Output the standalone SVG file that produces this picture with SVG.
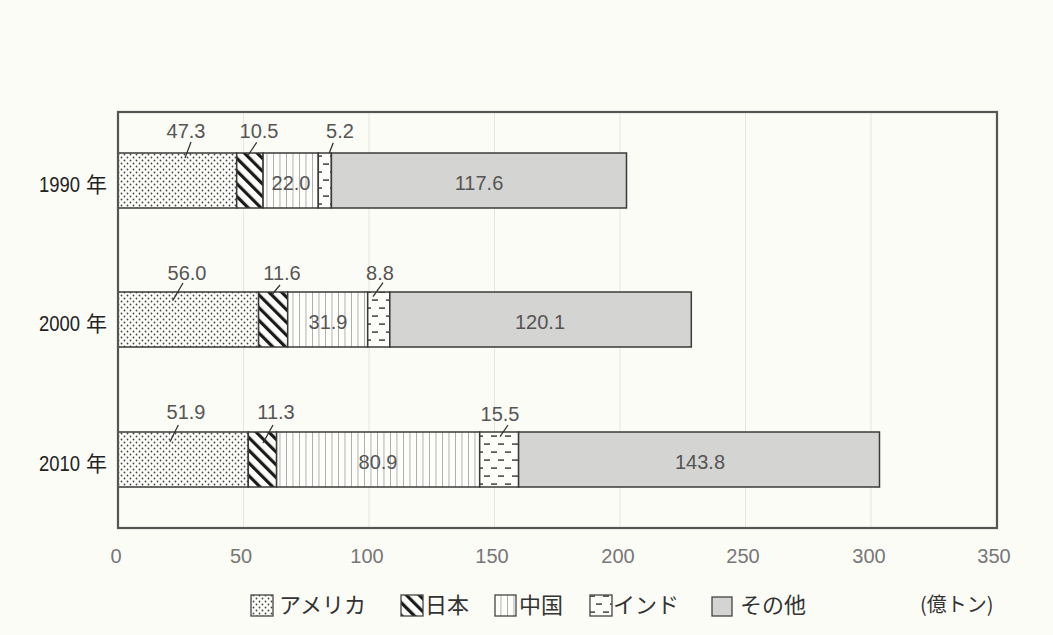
<svg xmlns="http://www.w3.org/2000/svg" width="1053" height="635" viewBox="0 0 1053 635">
<defs>
<pattern id="pDots" patternUnits="userSpaceOnUse" width="6" height="6">
<rect width="6" height="6" fill="#fdfdfa"/>
<circle cx="1.5" cy="1.5" r="0.9" fill="#444"/>
<circle cx="4.5" cy="4.5" r="0.9" fill="#444"/>
</pattern>
<pattern id="pDiag" patternUnits="userSpaceOnUse" width="9" height="9" patternTransform="rotate(-45)">
<rect width="9" height="9" fill="#fdfdfa"/>
<rect x="0" y="0" width="3.2" height="9" fill="#1a1a1a"/>
</pattern>
<pattern id="pVert" patternUnits="userSpaceOnUse" width="6.5" height="10">
<rect width="6.5" height="10" fill="#fdfdfa"/>
<rect x="0" y="0" width="0.9" height="10" fill="#aaa"/>
</pattern>
<pattern id="pDash" patternUnits="userSpaceOnUse" width="14" height="16">
<rect width="14" height="16" fill="#fdfdfa"/>
<rect x="1" y="3.4" width="6" height="1.4" fill="#333"/>
<rect x="8" y="11.4" width="6" height="1.4" fill="#333"/>
</pattern>
<style>
.seg{stroke:#3a3a3a;stroke-width:1.5}
.oth{fill:#d4d4d2}
.val{font-family:"Liberation Sans",Arial,sans-serif;font-size:20px;fill:#555;text-anchor:middle}
.lead{stroke:#333;stroke-width:1.3}
.ax{font-family:"Liberation Sans",Arial,sans-serif;font-size:20px;fill:#777;text-anchor:middle}
.yr{font-family:"Liberation Sans",Arial,sans-serif;font-size:22px;fill:#222}
.yrk{font-family:"Noto Sans CJK JP",sans-serif;font-size:21px;fill:#222}
.lg{font-family:"Noto Sans CJK JP",sans-serif;font-size:22px;fill:#333}
.grid{stroke:#e6e6de;stroke-width:1}
.lbox{stroke:#444;stroke-width:1.3}
</style>
</defs>
<rect width="1053" height="635" fill="#fcfcf7"/>

<g id="grid">
<line class="grid" x1="243.5" y1="113" x2="243.5" y2="527"/>
<line class="grid" x1="369" y1="113" x2="369" y2="527"/>
<line class="grid" x1="494.5" y1="113" x2="494.5" y2="527"/>
<line class="grid" x1="620" y1="113" x2="620" y2="527"/>
<line class="grid" x1="745.5" y1="113" x2="745.5" y2="527"/>
<line class="grid" x1="871" y1="113" x2="871" y2="527"/>
</g>

<g id="bar1990">
<rect class="seg" x="118" y="153" width="118.7" height="55" fill="url(#pDots)"/>
<rect class="seg" x="236.7" y="153" width="26.4" height="55" fill="url(#pDiag)"/>
<rect class="seg" x="263.1" y="153" width="55.2" height="55" fill="url(#pVert)"/>
<rect class="seg" x="318.3" y="153" width="13.1" height="55" fill="url(#pDash)"/>
<rect class="seg oth" x="331.4" y="153" width="295.1" height="55"/>
<text class="val" x="186" y="138">47.3</text>
<text class="val" x="259" y="138">10.5</text>
<text class="val" x="340" y="138">5.2</text>
<text class="val" x="291" y="190">22.0</text>
<text class="val" x="479" y="190">117.6</text>
</g>

<g id="bar2000">
<rect class="seg" x="118" y="292" width="140.6" height="55" fill="url(#pDots)"/>
<rect class="seg" x="258.6" y="292" width="29.1" height="55" fill="url(#pDiag)"/>
<rect class="seg" x="287.7" y="292" width="80" height="55" fill="url(#pVert)"/>
<rect class="seg" x="367.7" y="292" width="22.1" height="55" fill="url(#pDash)"/>
<rect class="seg oth" x="389.8" y="292" width="301.5" height="55"/>
<text class="val" x="187" y="280">56.0</text>
<text class="val" x="282" y="280">11.6</text>
<text class="val" x="380" y="280">8.8</text>
<text class="val" x="328" y="329">31.9</text>
<text class="val" x="540" y="329">120.1</text>
</g>

<g id="bar2010">
<rect class="seg" x="118" y="432" width="130.3" height="55" fill="url(#pDots)"/>
<rect class="seg" x="248.3" y="432" width="28.3" height="55" fill="url(#pDiag)"/>
<rect class="seg" x="276.6" y="432" width="203.1" height="55" fill="url(#pVert)"/>
<rect class="seg" x="479.7" y="432" width="38.9" height="55" fill="url(#pDash)"/>
<rect class="seg oth" x="518.6" y="432" width="360.9" height="55"/>
<text class="val" x="186" y="419">51.9</text>
<text class="val" x="276" y="419">11.3</text>
<text class="val" x="500" y="421">15.5</text>
<text class="val" x="378" y="469">80.9</text>
<text class="val" x="700" y="469">143.8</text>
</g>

<g id="connectors">
<line class="lead" x1="191" y1="142" x2="185" y2="158"/>
<line class="lead" x1="256.7" y1="142.3" x2="248.3" y2="155"/>
<line class="lead" x1="333.3" y1="142.7" x2="329.3" y2="153"/>
<line class="lead" x1="183" y1="283" x2="172.7" y2="300.7"/>
<line class="lead" x1="280" y1="285" x2="271.7" y2="295"/>
<line class="lead" x1="383" y1="282.7" x2="373" y2="296.7"/>
<line class="lead" x1="178.3" y1="425" x2="170" y2="441.7"/>
<line class="lead" x1="273" y1="425" x2="263" y2="443"/>
<line class="lead" x1="508" y1="425" x2="500" y2="436.7"/>
</g>

<g id="frame">
<rect x="118" y="112" width="879" height="416" fill="none" stroke="#555" stroke-width="2.2"/>
</g>

<g id="years">
<text class="yr" x="39" y="192" textLength="41" lengthAdjust="spacingAndGlyphs">1990</text><text class="yrk" x="86" y="192">年</text>
<text class="yr" x="39" y="331" textLength="41" lengthAdjust="spacingAndGlyphs">2000</text><text class="yrk" x="86" y="331">年</text>
<text class="yr" x="39" y="471" textLength="41" lengthAdjust="spacingAndGlyphs">2010</text><text class="yrk" x="86" y="471">年</text>
</g>

<g id="xaxis">
<text class="ax" x="116" y="563">0</text>
<text class="ax" x="241" y="563">50</text>
<text class="ax" x="367" y="563">100</text>
<text class="ax" x="492" y="563">150</text>
<text class="ax" x="618" y="563">200</text>
<text class="ax" x="743" y="563">250</text>
<text class="ax" x="869" y="563">300</text>
<text class="ax" x="994" y="563">350</text>
</g>

<g id="legend">
<rect class="lbox" x="251" y="595" width="22" height="21" fill="url(#pDots)"/>
<text class="lg" x="279" y="613">アメリカ</text>
<rect class="lbox" x="401" y="595" width="22" height="21" fill="url(#pDiag)"/>
<text class="lg" x="425" y="613">日本</text>
<rect class="lbox" x="495" y="595" width="21" height="21" fill="url(#pVert)"/>
<text class="lg" x="519" y="613">中国</text>
<rect class="lbox" x="590" y="595" width="22" height="21" fill="url(#pDash)"/>
<text class="lg" x="613" y="613">インド</text>
<rect class="lbox" x="712" y="597" width="20" height="19" fill="#d4d4d2"/>
<text class="lg" x="740" y="613">その他</text>
<text class="lg" x="920" y="612" style="font-size:20px">(億トン)</text>
</g>
</svg>
